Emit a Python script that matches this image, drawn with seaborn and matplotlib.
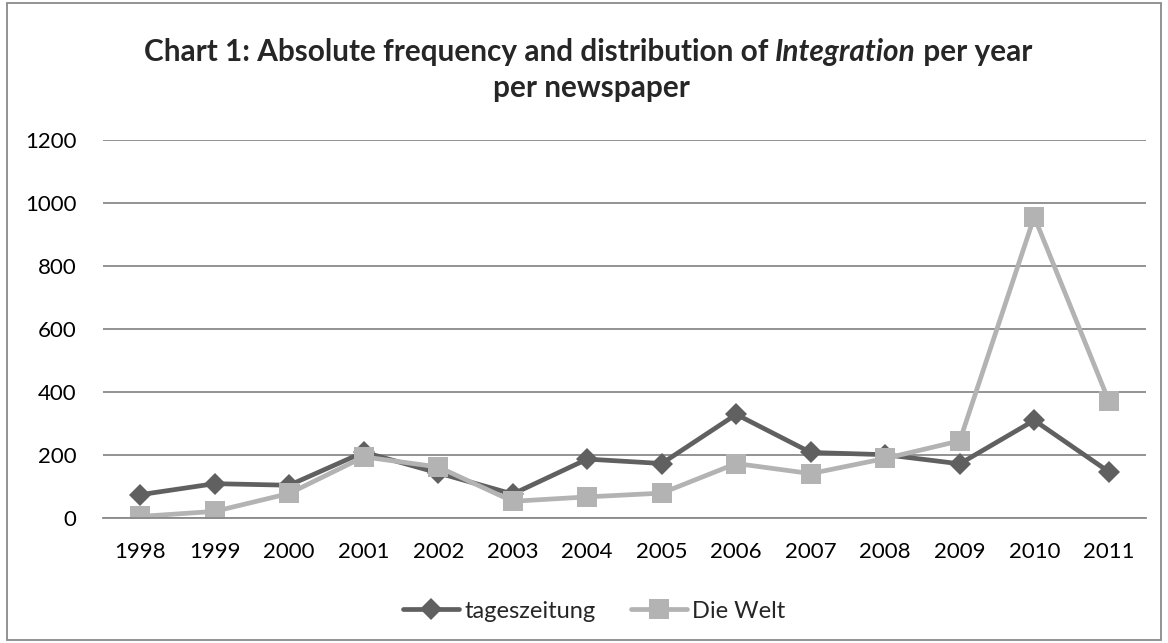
import matplotlib
matplotlib.use("Agg")
import matplotlib.pyplot as plt
import seaborn as sns
import pandas as pd

# ─────────────────────────────────────────────
# DATI
# ─────────────────────────────────────────────
YEARS = ["1998", "1999", "2000", "2001", "2002", "2003", "2004",
         "2005", "2006", "2007", "2008", "2009", "2010", "2011"]
TAGESZEITUNG = [74, 109, 104, 209, 143, 76, 187, 173, 329, 208, 201, 172, 310, 147]
DIE_WELT     = [5, 21, 78, 194, 162, 53, 67, 79, 173, 141, 189, 245, 956, 372]
Y_TICKS = [0, 200, 400, 600, 800, 1000, 1200]

sns.set_theme(style="white")
plt.rcParams["font.family"] = ["Lato", "DejaVu Sans"]

df = pd.DataFrame({
    "year": YEARS * 2,
    "value": TAGESZEITUNG + DIE_WELT,
    "paper": ["tageszeitung"] * len(YEARS) + ["Die Welt"] * len(YEARS),
})

W, H = 1168, 643
fig = plt.figure(figsize=(W / 100, H / 100), dpi=100)
ax = fig.add_axes([103 / W, 1 - 518 / H, 1043 / W, 378 / H])

palette = {"tageszeitung": "#606060", "Die Welt": "#b3b3b3"}
markers = {"tageszeitung": "D", "Die Welt": "s"}
sizes = {"tageszeitung": 11, "Die Welt": 14}

for paper in ["tageszeitung", "Die Welt"]:
    sub = df[df["paper"] == paper]
    sns.lineplot(data=sub, x="year", y="value", ax=ax, color=palette[paper],
                 marker=markers[paper], markersize=sizes[paper],
                 markeredgewidth=0, linewidth=3.4, label=paper, sort=False)

ax.set_xlim(-0.5, len(YEARS) - 0.5)
ax.set_ylim(0, 1200)
ax.set_yticks(Y_TICKS)
ax.yaxis.grid(True, color="#8a8a8a", linewidth=1.3)
ax.set_axisbelow(True)
for s in ["top", "right", "left"]:
    ax.spines[s].set_visible(False)
ax.spines["bottom"].set_color("#8a8a8a")
ax.spines["bottom"].set_linewidth(1.3)
ax.set_xlabel("")
ax.set_ylabel("")
ax.tick_params(axis="both", labelsize=16, colors="black", length=0)
ax.tick_params(axis="x", pad=17)
ax.tick_params(axis="y", pad=19)

ax.legend(loc="center", bbox_to_anchor=(594 / W, 1 - 611 / H), bbox_transform=fig.transFigure,
          ncol=2, frameon=False, fontsize=17, handlelength=2.4,
          columnspacing=1.5, handletextpad=0.2)

# titolo: tre pezzi, "Integration" in corsivo; dimensione adattata alla larghezza
pieces = [("Chart 1: Absolute frequency and distribution of ", "normal"),
          ("Integration", "italic"),
          (" per year", "normal")]
fig.canvas.draw()
renderer = fig.canvas.get_renderer()


def draw_title(size):
    objs = []
    for txt, style in pieces:
        t = fig.text(0, 1 - 61 / H, txt, ha="left", va="baseline", fontsize=size,
                     fontweight="bold", style=style)
        objs.append((t, t.get_window_extent(renderer).width))
    return objs


objs = draw_title(20)
total = sum(w for _, w in objs)
for t, _ in objs:
    t.remove()
size = 20 * 890 / total
objs = draw_title(size)
total = sum(w for _, w in objs)
x0 = 588 - total / 2
for t, w in objs:
    t.set_x(x0 / W)
    x0 += w
fig.text(591 / W, 1 - 97 / H, "per newspaper", ha="center", va="baseline",
         fontsize=size, fontweight="bold")

border = plt.Rectangle((0.006, 0.004), 0.988, 0.992, transform=fig.transFigure,
                       fill=False, edgecolor="#8a8a8a", linewidth=1.3)
fig.patches.append(border)

plt.savefig("out.png", dpi=100)
plt.close()
